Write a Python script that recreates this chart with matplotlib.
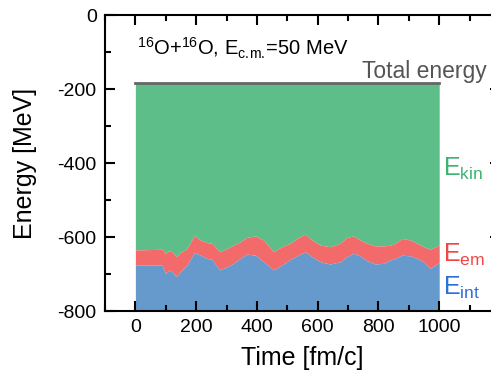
import numpy as np
import matplotlib.pyplot as plt
from matplotlib.ticker import MultipleLocator

plt.rcParams['font.family'] = ['Liberation Sans', 'DejaVu Sans']
plt.rcParams['mathtext.default'] = 'regular'
plt.rcParams['axes.unicode_minus'] = False

# time [fm/c]
t = [0, 88, 99, 110, 121, 135, 148, 170, 194, 214, 236, 252, 277, 302, 323, 345,
     367, 395, 422, 455, 482, 510, 537, 559, 581, 609, 641, 674, 696, 718, 740,
     762, 789, 817, 839, 855, 877, 905, 927, 948, 970, 1000]
# upper edge of E_em band (= total - E_kin)
em_top = [-635, -633, -644, -637, -640, -653, -642, -631, -596, -608, -615, -617,
          -640, -631, -622, -613, -601, -597, -608, -640, -626, -617, -601, -592,
          -608, -622, -626, -617, -601, -597, -608, -617, -624, -624, -622, -617,
          -604, -608, -617, -626, -633, -622]
# upper edge of E_int band
int_top = [-676, -676, -698, -689, -694, -707, -694, -676, -642, -649, -658, -660,
           -689, -680, -671, -658, -646, -649, -667, -689, -676, -660, -649, -640,
           -653, -667, -673, -667, -653, -644, -651, -664, -673, -671, -662, -658,
           -649, -651, -658, -667, -685, -669]
total = -185
bottom = -800

fig = plt.figure(figsize=(4.91, 3.78), dpi=100)
ax = fig.add_axes([0.2138, 0.1772, 0.8045, 0.783])

t = np.array(t)
ax.fill_between(t, total, em_top, color='#5dbe8a', lw=0)
ax.fill_between(t, em_top, int_top, color='#f26a6a', lw=0)
ax.fill_between(t, int_top, bottom, color='#6699cc', lw=0)
ax.plot([t[0], t[-1]], [total, total], color='#666666', lw=2)

ax.set_xlim(-100, 1200)
ax.set_ylim(-800, 0)
ax.set_xticks([0, 200, 400, 600, 800, 1000])
ax.xaxis.set_minor_locator(MultipleLocator(100))
ax.yaxis.set_major_locator(MultipleLocator(200))
ax.yaxis.set_minor_locator(MultipleLocator(100))
ax.tick_params(which='both', direction='in', top=True, right=True, width=1.5, labelsize=14)
ax.tick_params(which='major', length=7, pad=6)
ax.tick_params(which='minor', length=4)
for s in ax.spines.values():
    s.set_linewidth(1.5)

ax.set_xlabel('Time [fm/c]', fontsize=18, labelpad=7)
ax.set_ylabel('Energy [MeV]', fontsize=18, labelpad=15)

ax.text(7, -108, r'$^{16}$O+$^{16}$O, E$_{c.\!m.\!}$=50 MeV', fontsize=14.5,
        ha='left', va='baseline')
ax.text(1158, -170, 'Total energy', fontsize=16.5, color='#555555', ha='right', va='baseline')
ax.text(1014, -435, r'E$_{kin}$', fontsize=18, color='#3cb371', ha='left', va='baseline')
ax.text(1014, -667, r'E$_{em}$', fontsize=18, color='#f04545', ha='left', va='baseline')
ax.text(1014, -757, r'E$_{int}$', fontsize=18, color='#2f6fd8', ha='left', va='baseline')

fig.savefig('out.png', dpi=100)
